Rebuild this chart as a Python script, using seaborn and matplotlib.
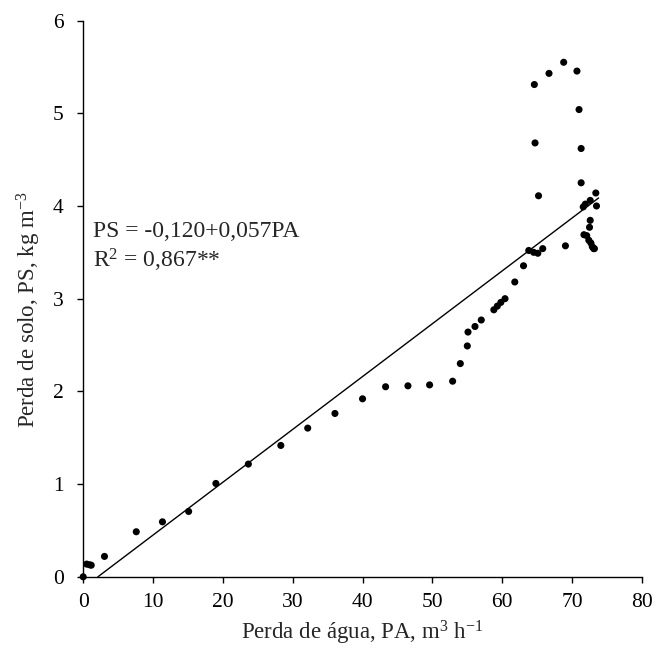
import matplotlib
matplotlib.use("Agg")
import matplotlib.pyplot as plt
import numpy as np
import pandas as pd
import seaborn as sns

# water loss (PA, m3 h-1) and soil loss (PS, kg m-3)
pa = [0.0, 0.5, 0.9, 1.15, 3.05, 7.6, 11.35, 15.1, 19.0, 23.65, 28.3, 32.15, 36.05, 40.0,
      43.3, 46.5, 49.6, 52.9, 54.0, 55.0, 55.1, 56.1, 57.0, 58.8, 59.3, 59.8, 60.4,
      61.8, 63.05, 63.8, 64.5, 65.1, 65.8, 69.05,
      64.6, 66.7, 68.8, 70.7, 71.0, 64.7, 71.3, 71.3, 65.2,
      73.4, 72.6, 71.9, 71.6, 73.5, 72.6, 72.5, 71.7, 72.1,
      72.4, 72.7, 72.9, 73.1, 73.2]
ps = [0.0, 0.137, 0.13, 0.125, 0.22, 0.486, 0.593, 0.705, 1.007, 1.216, 1.417, 1.604, 1.762, 1.92,
      2.05, 2.06, 2.07, 2.11, 2.30, 2.49, 2.64, 2.70, 2.77, 2.88, 2.92, 2.96, 3.0,
      3.18, 3.355, 3.52, 3.50, 3.49, 3.54, 3.57,
      5.31, 5.43, 5.55, 5.455, 5.04, 4.68, 4.62, 4.25, 4.11,
      4.14, 4.06, 4.02, 3.99, 4.0, 3.845, 3.77, 3.69, 3.68,
      3.63, 3.60, 3.56, 3.54, 3.54]

# fitted equation printed on the chart
intercept = -0.120
slope = 0.057
eq_text = "PS = -0,120+0,057PA"
r2_text = r"R$^2$ = 0,867**"

x_ticks = list(range(0, 90, 10))
y_ticks = list(range(0, 7))

df = pd.DataFrame({"pa": pa, "ps": ps})
x_fit = np.linspace(-intercept / slope, max(pa) + 0.3, 50)
fit = pd.DataFrame({"pa": x_fit, "ps": intercept + slope * x_fit})

sns.set_style("ticks")
plt.rcParams["font.family"] = ["Liberation Serif", "DejaVu Serif"]
plt.rcParams["mathtext.fontset"] = "custom"
plt.rcParams["mathtext.rm"] = "Liberation Serif"
plt.rcParams["mathtext.it"] = "Liberation Serif:italic"

fig = plt.figure(figsize=(6.55, 6.63), dpi=100)
ax = fig.add_axes([0.127, 0.130, 0.853, 0.839])

sns.lineplot(data=fit, x="pa", y="ps", color="black", linewidth=1.0, ax=ax)
sns.scatterplot(data=df, x="pa", y="ps", color="black", s=26, edgecolor="none",
                ax=ax, zorder=3, clip_on=False)

ax.set_xlim(0, 80)
ax.set_ylim(0, 6)
ax.set_xticks(x_ticks)
ax.set_yticks(y_ticks)
ax.tick_params(direction="out", length=4, width=1, labelsize=15.5, colors="black")
ax.tick_params(axis="y", pad=10)
ax.tick_params(axis="x", pad=8)
for side in ["left", "bottom"]:
    ax.spines[side].set_color("black")
    ax.spines[side].set_linewidth(1)
sns.despine(ax=ax)

ax.set_xlabel(r"Perda de água, PA, m$^3$ h$^{-1}$", fontsize=16.5)
ax.set_ylabel(r"Perda de solo, PS, kg m$^{-3}$", fontsize=16.5)
ax.xaxis.set_label_coords(0.5, -0.075)
ax.yaxis.set_label_coords(-0.072, 0.48)

ax.text(1.4, 3.72, eq_text, fontsize=17, va="center", ha="left")
ax.text(1.4, 3.41, r2_text, fontsize=17, va="center", ha="left")

fig.savefig("out.png", dpi=100)
